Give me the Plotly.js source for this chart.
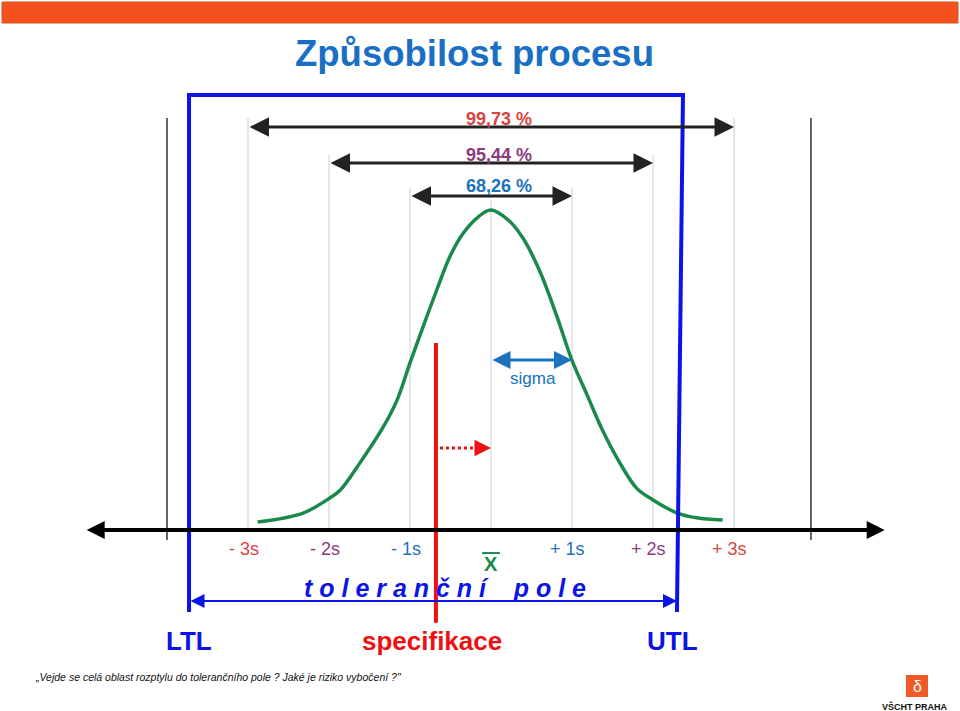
<!DOCTYPE html>
<html>
<head>
<meta charset="utf-8">
<script src="https://cdn.plot.ly/plotly-3.0.1.min.js"></script>
<style>html,body{margin:0;padding:0;background:#fff;}#chart{width:960px;height:711px;}</style>
</head>
<body>
<div id="chart"></div>
<script>
// ---- data (x in units of s from the mean, y = relative density, peak = 1) ----
const curveX = [-2.88,-2.32,-1.99,-1.86,-1.62,-1.33,-1.16,-1.00,-0.84,-0.67,-0.51,-0.35,-0.16,0.00,0.23,0.40,0.60,0.81,1.00,1.19,1.38,1.59,1.80,2.00,2.30,2.54,2.86];
const curveY = [0.025,0.053,0.10,0.125,0.209,0.322,0.406,0.522,0.634,0.750,0.853,0.925,0.978,1.00,0.965,0.91,0.81,0.67,0.53,0.42,0.31,0.21,0.13,0.094,0.053,0.038,0.031];
const sigmaTicks = [-3,-2,-1,1,2,3];
const sigmaTickLabels = ['- 3s','- 2s','- 1s','+ 1s','+ 2s','+ 3s'];
const coverageSpan = [3,2,1];
const coverageLabels = ['99,73 %','95,44 %','68,26 %'];
const LTL = -3.728;
const UTL_top = 2.370;
const UTL_bottom = 2.296;
const specValue = -0.68;
const meanValue = 0;
const outerTicks = [-4.0, 3.95];

// ---- styling ----
const cRed = '#d9443f', cPurple = '#8b3a7e', cBlue = '#1b72bd';
const tickColors = [cRed,cPurple,cBlue,cBlue,cPurple,cRed];
const covColors = [cRed,cPurple,cBlue];
const covArrowY = [1.259,1.147,1.044];
const covTextY = [1.284,1.172,1.075];
const gridTop = {3:1.2875,2:1.172,1:1.069};
const font = 'Liberation Sans, Arial, sans-serif';
const narrow = 'Liberation Sans Narrow, Arial Narrow, Liberation Sans, Arial, sans-serif';

const shapes = [];
const annotations = [];

// orange header bar
shapes.push({type:'rect',xref:'paper',yref:'paper',x0:2/960,x1:958/960,y0:1-23/711,y1:1-2/711,fillcolor:'#f4511e',line:{color:'#d9501f',width:1},layer:'below'});

// gray sigma lines
for (const s of [-3,-2,-1,0,1,2,3]) {
  const top = s===0 ? 1.03 : gridTop[Math.abs(s)];
  shapes.push({type:'line',xref:'x',yref:'y',x0:s,x1:s,y0:0,y1:top,line:{color:'#cfcfcf',width:1},layer:'below'});
}
// outer black ticks
for (const s of outerTicks) {
  shapes.push({type:'line',xref:'x',yref:'y',x0:s,x1:s,y0:-0.031,y1:1.2875,line:{color:'#333',width:1.5},layer:'below'});
}
// blue tolerance frame
shapes.push({type:'path',xref:'x',yref:'y',path:`M${LTL},-0.256 L${LTL},1.359 L${UTL_top},1.359 L${UTL_bottom},-0.256`,line:{color:'#0a14e6',width:4}});
// red specification line
shapes.push({type:'line',xref:'x',yref:'y',x0:specValue,x1:specValue,y0:-0.29,y1:0.584,line:{color:'#ee1111',width:4}});
// dotted shift arrow
shapes.push({type:'line',xref:'x',yref:'y',x0:specValue+0.05,x1:meanValue-0.12,y0:0.256,y1:0.256,line:{color:'#ee1111',width:3,dash:'dot'}});

function dblArrow(x0,x1,y,color,w,size){
  annotations.push({xref:'x',yref:'y',axref:'x',ayref:'y',x:x1,y:y,ax:x0,ay:y,text:'',showarrow:true,arrowhead:2,arrowside:'end+start',arrowsize:size,arrowwidth:w,arrowcolor:color,standoff:0,startstandoff:0});
}
function txt(xref,x,y,text,size,color,family,extra){
  annotations.push(Object.assign({xref:xref,yref:xref==='x'?'y':'paper',x:x,y:y,text:text,showarrow:false,xanchor:'center',yanchor:'middle',font:{family:family||font,size:size,color:color}},extra||{}));
}
// main axis
dblArrow(-5.01,4.86,0,'#000',4,0.9);
// coverage arrows + labels
coverageSpan.forEach((s,i)=>{
  dblArrow(-s,s,covArrowY[i],'#222',3,1.3);
  txt('x',0.1,covTextY[i],'<b>'+coverageLabels[i]+'</b>',18,covColors[i]);
});
// sigma arrow
dblArrow(0,1,0.531,cBlue,3,1.2);
txt('x',0.52,0.475,'sigma',17,cBlue);
// dotted arrow head
annotations.push({xref:'x',yref:'y',axref:'x',ayref:'y',x:meanValue,y:0.256,ax:meanValue-0.14,ay:0.256,text:'',showarrow:true,arrowhead:2,arrowsize:1.1,arrowwidth:3,arrowcolor:'#ee1111',standoff:0});
// tolerance arrow
dblArrow(LTL,UTL_bottom,-0.222,'#0a14e6',2,1.4);

// sigma tick labels
sigmaTicks.forEach((s,i)=>{
  txt('x',s-0.05,-0.059,sigmaTickLabels[i],18,tickColors[i],narrow);
});
// x-bar
txt('x',meanValue,-0.107,'<b>X</b>',20,'#1a8a4a',narrow);
shapes.push({type:'line',xref:'x',yref:'y',x0:-0.11,x1:0.11,y0:-0.072,y1:-0.072,line:{color:'#1a8a4a',width:2}});
// toleranční pole
txt('x',-0.57,-0.18,'<b><i>t o l e r a n č n í&nbsp;&nbsp;&nbsp; p o l e</i></b>',25,'#0a14e6');
// LTL / specifikace / UTL
txt('x',LTL,-0.347,'<b>LTL</b>',26,'#0a14e6',narrow);
txt('x',specValue-0.05,-0.347,'<b>specifikace</b>',26,'#ee1111',narrow);
txt('x',UTL_bottom-0.05,-0.347,'<b>UTL</b>',26,'#0a14e6',narrow);

// title (paper)
txt('paper',474/960,1-53/711,'<b>Způsobilost procesu</b>',36.5,'#1a6fc4');
// footnote
txt('paper',33/960,1-677/711,'<i>„Vejde se celá oblast rozptylu do tolerančního pole ? Jaké je riziko vybočení ?"</i>',10.5,'#111',narrow,{xanchor:'left'});
// logo
shapes.push({type:'rect',xref:'paper',yref:'paper',x0:906/960,x1:928/960,y0:1-697/711,y1:1-675/711,fillcolor:'#f05a28',line:{width:0}});
txt('paper',917/960,1-686/711,'δ',16,'#fff');
txt('paper',915/960,1-706/711,'<b>VŠCHT PRAHA</b>',9,'#111',narrow);

const traces = [{
  x: curveX, y: curveY, type:'scatter', mode:'lines',
  line:{color:'#1a8a4a',width:3.5,shape:'spline',smoothing:1},
  hoverinfo:'skip'
}];

const layout = {
  width:960,height:711,
  margin:{l:0,r:0,t:0,b:0},
  paper_bgcolor:'#fff',plot_bgcolor:'#fff',
  showlegend:false,
  xaxis:{range:[-491/81,(960-491)/81],visible:false,fixedrange:true},
  yaxis:{range:[(530-711)/320,530/320],visible:false,fixedrange:true},
  shapes:shapes,
  annotations:annotations
};
Plotly.newPlot('chart',traces,layout,{displayModeBar:false,staticPlot:true});
</script>
</body>
</html>
